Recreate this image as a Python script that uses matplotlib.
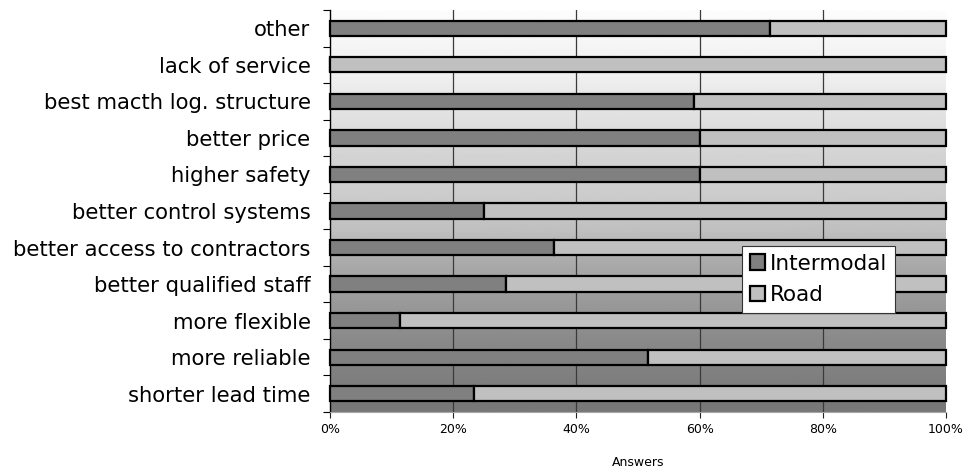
import numpy as np
import matplotlib
matplotlib.use("Agg")
import matplotlib.pyplot as plt
from matplotlib.ticker import PercentFormatter, FixedLocator

categories = [
    "shorter lead time",
    "more reliable",
    "more flexible",
    "better qualified staff",
    "better access to contractors",
    "better control systems",
    "higher safety",
    "better price",
    "best macth log. structure",
    "lack of service",
    "other",
]
intermodal = [23.3, 51.6, 11.4, 28.6, 36.4, 25.0, 60.0, 60.0, 59.1, 0.0, 71.4]
road = [100 - v for v in intermodal]

fig = plt.figure(figsize=(9.72, 4.73), dpi=100)
ax = fig.add_axes([330 / 972, 1 - 412 / 473, 616 / 972, 402 / 473])

# vertical grey gradient behind the bars
ys = np.linspace(0, 1, 400)
ctrl_y = [0.0, 0.02, 0.09, 0.18, 0.27, 0.36, 0.45, 0.54, 0.64, 0.73, 0.82, 0.91, 1.0]
ctrl_v = [0.47, 0.47, 0.50, 0.54, 0.60, 0.66, 0.75, 0.80, 0.83, 0.88, 0.93, 0.96, 0.99]
vals = np.interp(ys, ctrl_y, ctrl_v)
grad = np.repeat(vals[:, None], 2, axis=1)
ax.imshow(grad, cmap="gray", vmin=0, vmax=1, origin="lower", aspect="auto",
          extent=[0, 100, -0.5, len(categories) - 0.5], zorder=0)

y = np.arange(len(categories))
h = 0.42
ax.barh(y, intermodal, height=h, color="#808080", edgecolor="black",
        linewidth=1.6, label="Intermodal", zorder=3, clip_on=False)
ax.barh(y, road, left=intermodal, height=h, color="#c0c0c0", edgecolor="black",
        linewidth=1.6, label="Road", zorder=3, clip_on=False)

ax.set_xlim(0, 100)
ax.set_ylim(-0.5, len(categories) - 0.5)

for gx in [20, 40, 60, 80]:
    ax.axvline(gx, color="#3a3a3a", linewidth=0.9, zorder=1)

ax.set_xticks([0, 20, 40, 60, 80, 100])
ax.xaxis.set_major_formatter(PercentFormatter(decimals=0))
ax.tick_params(axis="x", labelsize=9, length=4, width=0.8, color="#222222", pad=4)
ax.set_xlabel("Answers", fontsize=9, labelpad=14)

ax.set_yticks(y)
ax.set_yticklabels(categories, fontsize=15.2)
ax.tick_params(axis="y", which="major", length=0, pad=14)
ax.yaxis.set_minor_locator(FixedLocator(np.arange(-0.5, len(categories), 1.0)))
ax.tick_params(axis="y", which="minor", length=5, width=0.8, color="black")

for side in ["top", "right"]:
    ax.spines[side].set_visible(False)
ax.spines["left"].set_color("black")
ax.spines["left"].set_linewidth(1.0)
ax.spines["bottom"].set_color("#a8a8a8")
ax.spines["bottom"].set_linewidth(0.8)

leg = ax.legend(loc="upper left", bbox_to_anchor=(0.669, 0.413), fontsize=15.5,
                frameon=True, fancybox=False, framealpha=1, edgecolor="#333333",
                handlelength=0.7, handleheight=0.7, handletextpad=0.25,
                borderpad=0.35, labelspacing=0.55, borderaxespad=0)
leg.get_frame().set_linewidth(0.8)
leg.set_zorder(5)

fig.savefig("out.png", dpi=100)
